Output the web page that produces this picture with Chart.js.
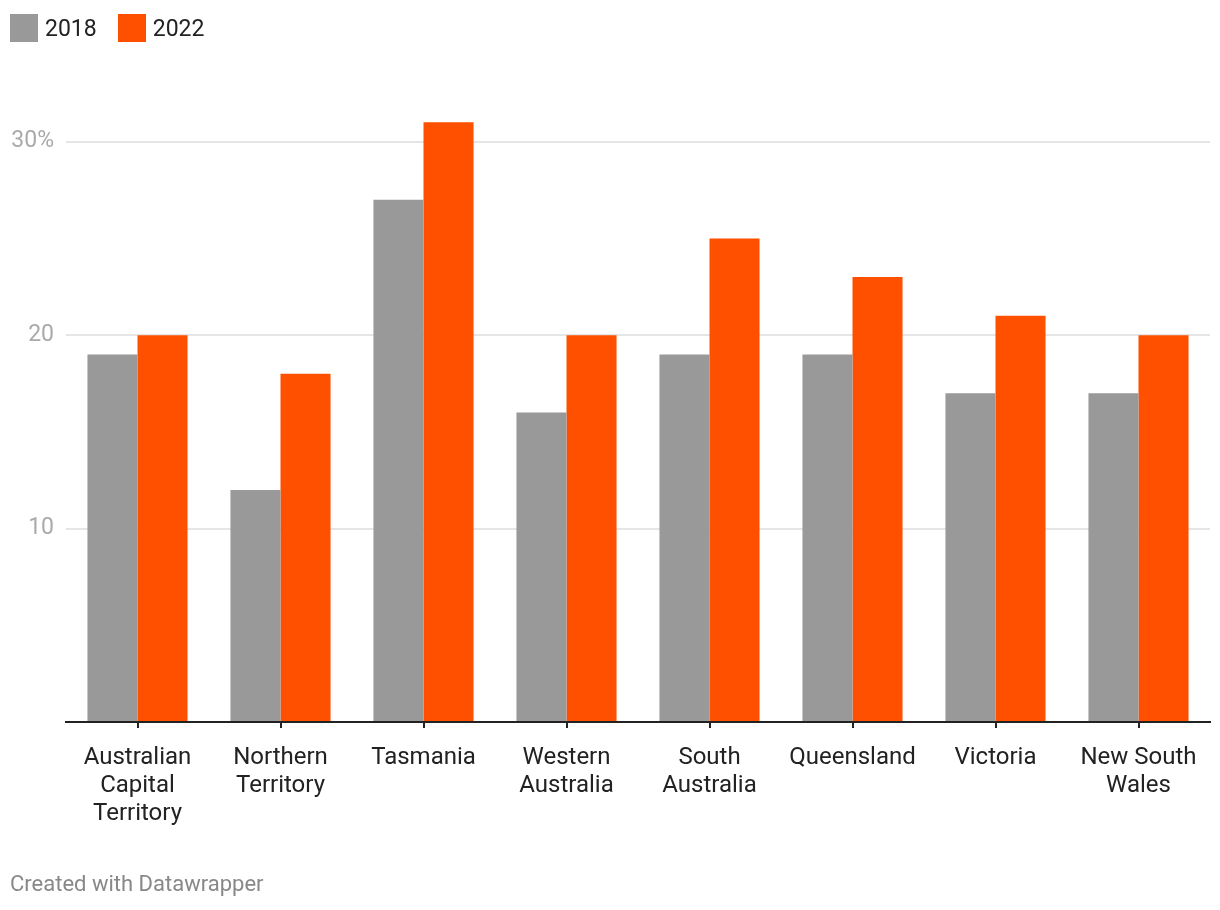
<!DOCTYPE html>
<html>
<head>
<meta charset="utf-8">
<script src="https://cdn.jsdelivr.net/npm/chart.js@4/dist/chart.umd.min.js"></script>
<style>
  html, body { margin: 0; padding: 0; background: #fff; }
  body { width: 1220px; height: 910px; position: relative; overflow: hidden; font-family: Roboto, sans-serif; }
  #wrap { position: absolute; left: 0; top: 0; width: 1220px; height: 910px; }
  #legend { position: absolute; left: 10px; top: 14px; display: flex; align-items: center; font-size: 23px; color: #222; }
  .item { display: flex; align-items: center; margin-right: 21px; }
  .sw { width: 28px; height: 28px; margin-right: 7px; }
  #footer { position: absolute; left: 10px; top: 871px; font-size: 22px; color: #888; }
</style>
</head>
<body>
<div id="wrap"><canvas id="c" width="1220" height="910"></canvas></div>
<div id="legend"></div>
<div id="footer">Created with Datawrapper</div>
<script>
const categories = [
  ["Australian", "Capital", "Territory"],
  ["Northern", "Territory"],
  ["Tasmania"],
  ["Western", "Australia"],
  ["South", "Australia"],
  ["Queensland"],
  ["Victoria"],
  ["New South", "Wales"]
];
const seriesNames = ["2018", "2022"];
const values2018 = [19, 12, 27, 16, 19, 19, 17, 17];
const values2022 = [20, 18, 31, 20, 25, 23, 21, 20];
const seriesColors = ["#999999", "#ff5000"];
const yTickValues = [10, 20, 30];
const yTickLabels = ["10", "20", "30%"];

const legendEl = document.getElementById('legend');
seriesNames.forEach((n, i) => {
  const it = document.createElement('div');
  it.className = 'item';
  const sw = document.createElement('div');
  sw.className = 'sw';
  sw.style.background = seriesColors[i];
  const t = document.createElement('span');
  t.textContent = n;
  it.appendChild(sw); it.appendChild(t);
  legendEl.appendChild(it);
});

new Chart(document.getElementById('c'), {
  type: 'bar',
  data: {
    labels: categories,
    datasets: [
      { label: seriesNames[0], data: values2018, backgroundColor: seriesColors[0], categoryPercentage: 0.7, barPercentage: 1.0 },
      { label: seriesNames[1], data: values2022, backgroundColor: seriesColors[1], categoryPercentage: 0.7, barPercentage: 1.0 }
    ]
  },
  options: {
    responsive: false,
    animation: false,
    layout: { padding: { top: 103, right: 10, left: 0, bottom: 58 } },
    plugins: { legend: { display: false }, tooltip: { enabled: false } },
    scales: {
      x: {
        border: { display: true, color: '#222', width: 2 },
        grid: { display: true, drawOnChartArea: false, drawTicks: true, tickLength: 6, color: '#222', lineWidth: 2, offset: false },
        ticks: { color: '#222', font: { family: 'Roboto', size: 24, lineHeight: 1.17 }, padding: 16, maxRotation: 0, autoSkip: false },
        afterFit: s => { s.height = 130; }
      },
      y: {
        min: 0, max: 32,
        border: { display: false },
        grid: { color: c => (c.tick && c.tick.value === 0) ? 'rgba(0,0,0,0)' : '#e5e5e5', lineWidth: 2, drawTicks: false },
        ticks: {
          color: '#aaaaaa', font: { family: 'Roboto', size: 23 }, padding: 12,
          callback: v => { const i = yTickValues.indexOf(v); return i >= 0 ? yTickLabels[i] : ''; }
        },
        afterBuildTicks: s => { s.ticks = [0].concat(yTickValues).map(v => ({ value: v })); },
        afterFit: s => { s.width = 66; }
      }
    }
  }
});
</script>
</body>
</html>
